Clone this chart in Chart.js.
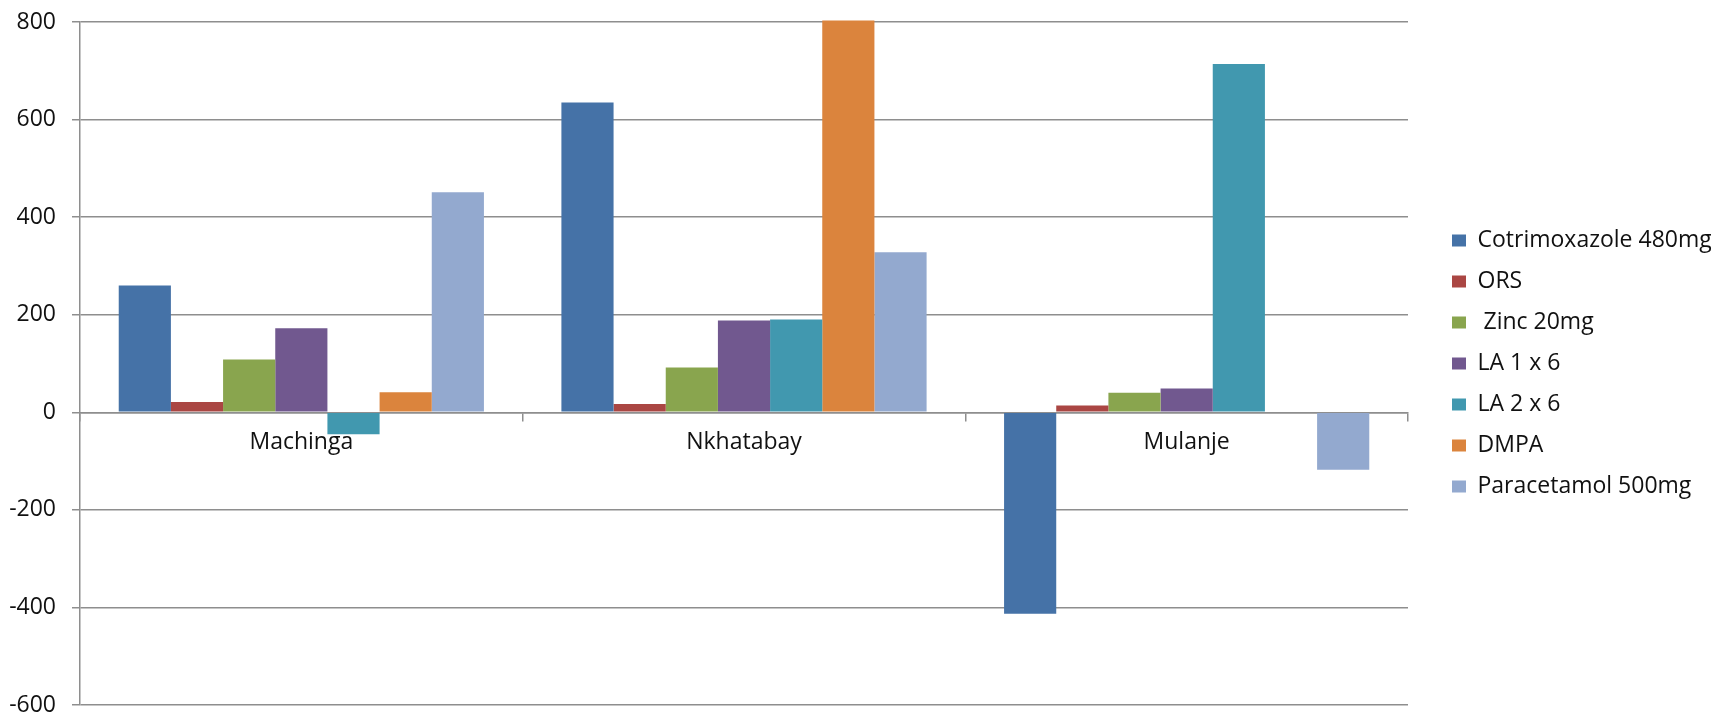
<!DOCTYPE html>
<html>
<head>
<meta charset="utf-8">
<title>Stock balance by district</title>
<script src="https://cdn.jsdelivr.net/npm/chart.js@4.4.1/dist/chart.umd.min.js"></script>
<style>
    html, body { margin: 0; padding: 0; background: #fff; }
    #wrap { width: 1711px; height: 714px; }
</style>
</head>
<body>
<div id="wrap"><canvas id="district-chart" width="1711" height="714"></canvas></div>
<script>
(function () {
    "use strict";

    // Districts and products
    var districts = ["Machinga", "Nkhatabay", "Mulanje"];
    var products = ["Cotrimoxazole 480mg", "ORS", " Zinc 20mg", "LA 1 x 6", "LA 2 x 6", "DMPA", "Paracetamol 500mg"];

    // One value per district, same order as above
    var cotrimoxazole = [260, 635, -413];
    var ors = [21, 17, 14];
    var zinc = [108, 92, 40];
    var la1x6 = [172, 188, 49];
    var la2x6 = [-45, 190, 714];
    var dmpa = [41, 803, null];
    var paracetamol = [451, 328, -118];

    var yTicks = [-600, -400, -200, 0, 200, 400, 600, 800];

    var colors = ["#4572A7", "#AA4643", "#89A54E", "#71588F", "#4198AF", "#DB843D", "#93A9CF"];
    var series = [cotrimoxazole, ors, zinc, la1x6, la2x6, dmpa, paracetamol];

    var gridGrey = "#8e8e8e";
    var textColor = "#111";
    var font = { family: "'Open Sans', sans-serif", size: 23 };

    var datasets = series.map(function (values, i) {
        return {
            label: products[i],
            data: values,
            backgroundColor: colors[i],
            borderWidth: 0,
            categoryPercentage: 0.825,
            barPercentage: 1,
            clip: false
        };
    });

    var ctx = document.getElementById("district-chart").getContext("2d");
    var districtChart = new Chart(ctx, {
        type: "bar",
        data: {
            labels: districts,
            datasets: datasets
        },
        options: {
            responsive: false,
            animation: false,
            devicePixelRatio: 1,
            layout: {
                padding: { top: 22, left: 9, bottom: 9, right: 0 }
            },
            plugins: {
                tooltip: { enabled: false },
                legend: {
                    position: "right",
                    maxWidth: 277,
                    labels: {
                        boxWidth: 14,
                        boxHeight: 12,
                        padding: 18,
                        color: textColor,
                        font: font
                    }
                }
            },
            scales: {
                x: {
                    position: { y: 0 },
                    grid: {
                        drawOnChartArea: false,
                        offset: true,
                        tickLength: 8,
                        color: gridGrey,
                        lineWidth: 1.5
                    },
                    border: { color: gridGrey, width: 1.5 },
                    ticks: {
                        font: font,
                        color: textColor,
                        padding: 8,
                        maxRotation: 0,
                        autoSkip: false
                    }
                },
                y: {
                    min: -600,
                    max: 800,
                    afterBuildTicks: function (axis) {
                        axis.ticks = yTicks.map(function (v) { return { value: v }; });
                    },
                    // fixed axis width; end labels may hang into the margins
                    afterFit: function (axis) {
                        axis.width = 71;
                        axis.paddingTop = 0;
                        axis.paddingBottom = 0;
                    },
                    grid: {
                        color: gridGrey,
                        lineWidth: 1.5,
                        tickLength: 8
                    },
                    border: { color: gridGrey, width: 1.5 },
                    ticks: {
                        font: font,
                        color: textColor,
                        padding: 16
                    }
                },
                // empty strip between plot and legend
                spacer: {
                    type: "linear",
                    axis: "y",
                    position: "right",
                    grid: { display: false },
                    border: { display: false },
                    ticks: { display: false },
                    afterFit: function (axis) { axis.width = 26; }
                }
            }
        }
    });
})();
</script>
</body>
</html>
